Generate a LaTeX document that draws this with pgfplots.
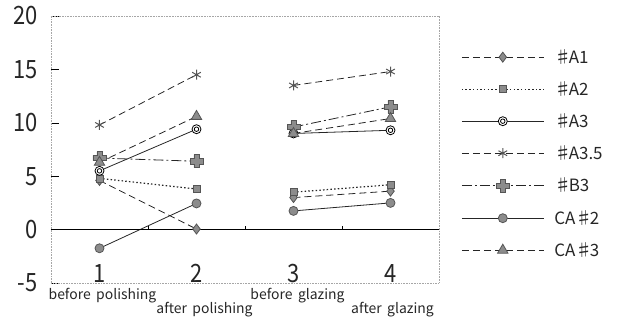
\documentclass[border=0pt]{standalone}
\usepackage{pgfplots}
\pgfplotsset{compat=1.18}
\usepackage{fontspec}
\setmainfont{Noto Sans CJK JP}
\usetikzlibrary{plotmarks}
\definecolor{mk}{HTML}{8C8C8C}
\definecolor{mkd}{HTML}{555555}
\newcommand{\sh}{♯\kern-2.5bp}
\pgfdeclareplotmark{dcirc}{%
  \pgfpathcircle{\pgfpointorigin}{\pgfplotmarksize}\pgfusepathqfillstroke
  \pgfpathcircle{\pgfpointorigin}{0.5\pgfplotmarksize}\pgfusepathqstroke}
\pgfdeclareplotmark{gcross}{%
  \pgfpathmoveto{\pgfpoint{0.4\pgfplotmarksize}{\pgfplotmarksize}}%
  \pgfpathlineto{\pgfpoint{0.4\pgfplotmarksize}{0.4\pgfplotmarksize}}%
  \pgfpathlineto{\pgfpoint{\pgfplotmarksize}{0.4\pgfplotmarksize}}%
  \pgfpathlineto{\pgfpoint{\pgfplotmarksize}{-0.4\pgfplotmarksize}}%
  \pgfpathlineto{\pgfpoint{0.4\pgfplotmarksize}{-0.4\pgfplotmarksize}}%
  \pgfpathlineto{\pgfpoint{0.4\pgfplotmarksize}{-\pgfplotmarksize}}%
  \pgfpathlineto{\pgfpoint{-0.4\pgfplotmarksize}{-\pgfplotmarksize}}%
  \pgfpathlineto{\pgfpoint{-0.4\pgfplotmarksize}{-0.4\pgfplotmarksize}}%
  \pgfpathlineto{\pgfpoint{-\pgfplotmarksize}{-0.4\pgfplotmarksize}}%
  \pgfpathlineto{\pgfpoint{-\pgfplotmarksize}{0.4\pgfplotmarksize}}%
  \pgfpathlineto{\pgfpoint{-0.4\pgfplotmarksize}{0.4\pgfplotmarksize}}%
  \pgfpathlineto{\pgfpoint{-0.4\pgfplotmarksize}{\pgfplotmarksize}}%
  \pgfpathclose\pgfusepathqfillstroke}
\begin{document}
\begin{tikzpicture}
\begin{axis}[
  at={(0,0)}, anchor=south west,
  width=388bp, height=267bp, scale only axis,
  xmin=0.5, xmax=4.5, ymin=-5, ymax=20,
  xtick={1,2,3,4}, xticklabels={1,2,3,4},
  major x tick style={draw=none},
  ytick={-5,0,5,10,15,20},
  ytick pos=left, tick align=inside, major tick length=8bp,
  major y tick style={black, line width=0.6bp},
  axis line style={gray!70, densely dotted, line width=0.6bp},
  tick label style={font=\fontsize{22}{22}\selectfont, text=black!85, yscale=1.15, transform shape},
  /pgf/number format/assume math mode=true,
  yticklabel style={xshift=-10bp},
  xticklabel style={anchor=south, yshift=-3bp},
  unbounded coords=jump,
  clip=false,
  every axis plot/.append style={line width=0.8bp, black!85},
  legend style={at={(1,1)}, anchor=north west, xshift=19bp, yshift=-33bp,
    draw=none, fill=none, font=\fontsize{17}{17}\selectfont,
    row sep=20bp, column sep=10bp,
    nodes={inner sep=0bp, text height=12bp, text depth=0bp, text=black!85}},
  legend cell align=left,
  legend image code/.code={\draw[mark repeat=2,mark phase=2,#1] plot coordinates {(0bp,0bp) (41bp,0bp) (82bp,0bp)};},
]
\addplot[dash pattern=on 7bp off 4bp, mark=diamond*, mark size=5bp,
  mark options={solid, fill=mk, draw=mkd}]
  coordinates {(1,4.6) (2,0.05) (2.5,nan) (3,3.0) (4,3.6)};
\addlegendentry{\sh A1}
\addplot[dash pattern=on 1.5bp off 2.2bp, line width=1.2bp, mark=square*, mark size=3.5bp,
  mark options={solid, fill=mk, draw=mkd, line width=0.6bp}]
  coordinates {(1,4.8) (2,3.8) (2.5,nan) (3,3.5) (4,4.2)};
\addlegendentry{\sh A2}
\addplot[solid, mark=dcirc, mark size=4.5bp,
  mark options={solid, fill=white, draw=black}]
  coordinates {(1,5.5) (2,9.4) (2.5,nan) (3,9.0) (4,9.3)};
\addlegendentry{\sh A3}
\addplot[dash pattern=on 7bp off 4bp, mark=asterisk, mark size=5bp,
  mark options={solid, draw=mkd, line width=1bp}]
  coordinates {(1,9.8) (2,14.5) (2.5,nan) (3,13.5) (4,14.8)};
\addlegendentry{\sh A3.5}
\addplot[dash pattern=on 10bp off 3bp on 2bp off 3bp, mark=gcross, mark size=6.5bp,
  mark options={solid, fill=mk, draw=mkd, line width=0.5bp}]
  coordinates {(1,6.7) (2,6.4) (2.5,nan) (3,9.6) (4,11.5)};
\addlegendentry{\sh B3}
\addplot[solid, mark=*, mark size=4.5bp,
  mark options={solid, fill=mk, draw=mkd}]
  coordinates {(1,-1.75) (2,2.45) (2.5,nan) (3,1.75) (4,2.5)};
\addlegendentry{CA\sh 2}
\addplot[dash pattern=on 7bp off 4bp, mark=triangle*, mark size=6bp,
  mark options={solid, fill=mk, draw=mkd}]
  coordinates {(1,6.3) (2,10.6) (2.5,nan) (3,9.0) (4,10.4)};
\addlegendentry{CA\sh 3}
\draw[black, line width=0.8bp] (axis cs:0.5,0) -- (axis cs:4.5,0);
\draw[black, line width=0.6bp] (axis cs:1.5,0) -- ([yshift=4bp]axis cs:1.5,0);
\draw[black, line width=0.6bp] (axis cs:2.5,0) -- ([yshift=4bp]axis cs:2.5,0);
\draw[black, line width=0.6bp] (axis cs:3.5,0) -- ([yshift=4bp]axis cs:3.5,0);
\begin{scope}[every node/.style={anchor=base, font=\fontsize{14}{14}\selectfont, text=black!85, inner sep=0bp}]
\node at ([xshift=3bp, yshift=-16bp]axis cs:1,-5) {before\, polishing};
\node at ([xshift=8bp, yshift=-30bp]axis cs:2,-5) {after\, polishing};
\node at ([xshift=4bp, yshift=-16bp]axis cs:3,-5) {before\, glazing};
\node at ([xshift=2bp, yshift=-30bp]axis cs:4,-5) {after\, glazing};
\end{scope}
\end{axis}
\pgfresetboundingbox
\path (-51bp,-38bp) rectangle (575bp,283bp);
\end{tikzpicture}
\end{document}
